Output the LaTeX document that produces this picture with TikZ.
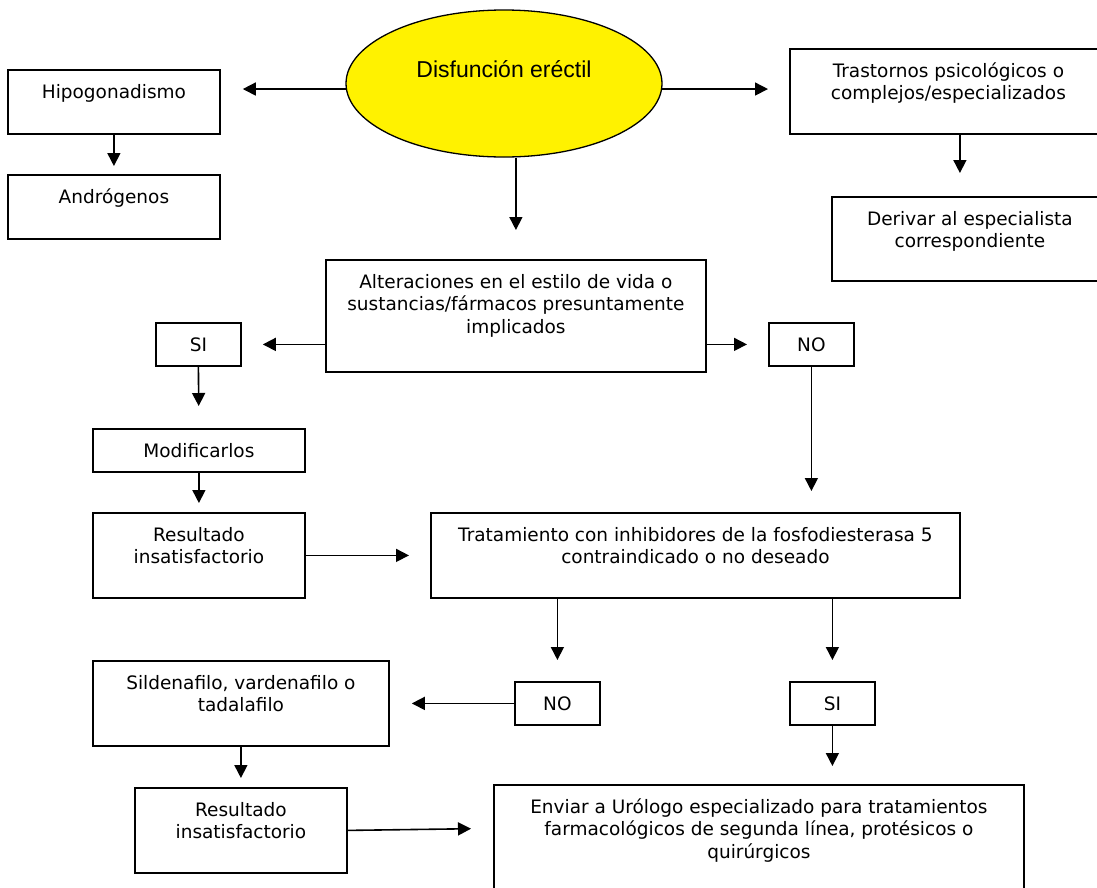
\documentclass[tikz,border=0pt]{standalone}
\usepackage{fontspec}
\setmainfont{DejaVu Sans}
\newfontfamily\arialfont{Liberation Sans}
\usetikzlibrary{arrows.meta, positioning, shapes.geometric}
\newcommand{\topgap}{\rule{0pt}{29pt}}

\begin{document}
\begin{tikzpicture}[
    x=1pt, y=-1pt,
    box/.style={draw, line width=1.8pt, rectangle, anchor=north west, inner sep=0pt},
    txt/.style={anchor=north, inner sep=0pt, align=center,
                font=\fontsize{18.5}{22.5}\selectfont},
    arr/.style={draw, line width=1.6pt, -{Triangle[length=13pt, width=13pt]}},
  ]
    \useasboundingbox (0,0) rectangle (1097,887);
    \clip (0,0) rectangle (1097,887);

    \node[ellipse, draw, line width=1.3pt, fill=yellow, minimum width=316pt, minimum height=147pt,
          label={[yshift=14.5pt, font=\arialfont\fontsize{23}{27}\selectfont]center:Disfunción eréctil}] (dis) at (504,83.5) {};

    \node[box, minimum width=212pt, minimum height=64pt, label={[txt]north:\topgap Hipogonadismo}] (hipo) at (7,69) {};
    \node[box, minimum width=212pt, minimum height=64pt, label={[txt]north:\topgap Andrógenos}] (andro) at (7,174) {};
    \node[box, minimum width=317pt, minimum height=85pt, label={[txt]north:\topgap Trastornos psicológicos o\\complejos/especializados}] (tras) at (789,48) {};
    \node[box, minimum width=276pt, minimum height=84pt, label={[txt]north:\topgap Derivar al especialista\\correspondiente}] (der) at (831,196) {};
    \node[box, minimum width=380pt, minimum height=112pt, label={[txt]north:\topgap Alteraciones en el estilo de vida o\\sustancias/fármacos presuntamente\\implicados}] (alt) at (325,259) {};
    \node[box, minimum width=85pt, minimum height=43pt, label={[txt]north:\topgap SI}] (si1) at (155,322) {};
    \node[box, minimum width=85pt, minimum height=43pt, label={[txt]north:\topgap NO}] (no1) at (768,322) {};
    \node[box, minimum width=212pt, minimum height=43pt, label={[txt]north:\topgap Modificarlos}] (mod) at (92,428) {};
    \node[box, minimum width=212pt, minimum height=85pt, label={[txt]north:\topgap Resultado\\insatisfactorio}] (res1) at (92,512) {};
    \node[box, minimum width=529pt, minimum height=85pt, label={[txt]north:\topgap Tratamiento con inhibidores de la fosfodiesterasa 5\\contraindicado o no deseado}] (trat) at (430,512) {};
    \node[box, minimum width=85pt, minimum height=43pt, label={[txt]north:\topgap NO}] (no2) at (514,681) {};
    \node[box, minimum width=85pt, minimum height=43pt, label={[txt]north:\topgap SI}] (si2) at (789,681) {};
    \node[box, minimum width=296pt, minimum height=85pt, label={[txt]north:\topgap Sildenafilo, vardenafilo o\\tadalafilo}] (sild) at (92,660) {};
    \node[box, minimum width=212pt, minimum height=85pt, label={[txt]north:\topgap Resultado\\insatisfactorio}] (res2) at (134,787) {};
    \node[box, minimum width=530pt, minimum height=112pt, label={[txt]north:\topgap Enviar a Urólogo especializado para tratamientos\\farmacológicos de segunda línea, protésicos o\\quirúrgicos}] (env) at (493,784) {};

    \draw[arr, shorten >=22pt] (dis.182) -- (dis.182 -| hipo.east);
    \draw[arr, shorten >=21pt] (dis.-2) -- (dis.-2 -| tras.west);
    \draw[arr, shorten >=29pt] (alt.north |- dis.south) -- (alt.north);
    \draw[arr, shorten >=8pt] (hipo.south) -- (andro.north);
    \draw[arr, shorten >=23pt] ([xshift=11.5pt]tras.south) -- ([xshift=11.5pt]tras.south |- der.north);
    \draw[arr, shorten >=21pt] (si1.east -| alt.west) -- (si1.east);
    \draw[arr, shorten >=21pt] (no1.west -| alt.east) -- (no1.west);
    \draw[arr, shorten >=22pt] (si1.south) -- (mod.north);
    \draw[arr, shorten >=9pt] (mod.south) -- (res1.north);
    \draw[arr, shorten >=21pt] (res1.east) -- (res1.east -| trat.west);
    \draw[arr, shorten >=21pt] (no1.south) -- (no1.south |- trat.north);
    \draw[arr, shorten >=21pt] (no2.north |- trat.south) -- (no2.north);
    \draw[arr, shorten >=21pt] (si2.north |- trat.south) -- (si2.north);
    \draw[arr, shorten >=22pt] (no2.west) -- (no2.west -| sild.east);
    \draw[arr, shorten >=9pt] (sild.south) -- (res2.north);
    \draw[arr, shorten >=22pt] (res2.east) -- ([yshift=2pt]res2.east -| env.west);
    \draw[arr, shorten >=18pt] (si2.south) -- (si2.south |- env.north);
\end{tikzpicture}
\end{document}
